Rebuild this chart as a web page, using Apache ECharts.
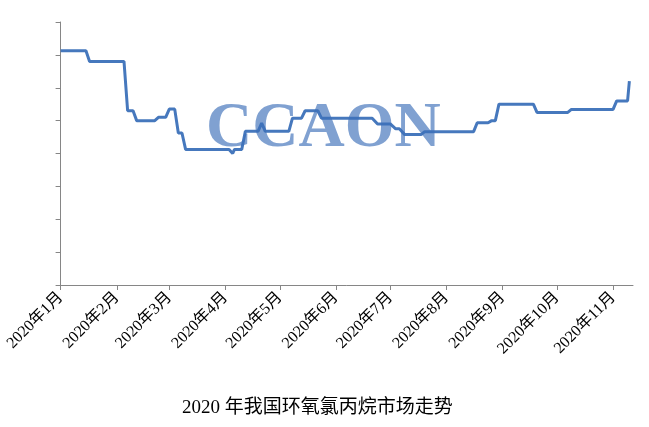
<!DOCTYPE html>
<html>
<head>
<meta charset="utf-8">
<script src="https://cdn.jsdelivr.net/npm/echarts@6/dist/echarts.min.js"></script>
<style>html,body{margin:0;padding:0;background:#fff}#c{width:649px;height:427px}</style>
</head>
<body>
<div id="c"></div>
<script>
// Data (price, arbitrary unlabeled scale)
const dates = [
  '2020-01-01','2020-01-15','2020-01-17','2020-02-05','2020-02-07','2020-02-10','2020-02-12','2020-02-22',
  '2020-02-24','2020-02-28','2020-03-01','2020-03-04','2020-03-06','2020-03-08','2020-03-10','2020-04-03',
  '2020-04-05','2020-04-06','2020-04-10','2020-04-12','2020-04-19','2020-04-21','2020-04-23','2020-05-06',
  '2020-05-08','2020-05-13','2020-05-15','2020-05-22','2020-05-24','2020-06-21','2020-06-24','2020-07-01',
  '2020-07-04','2020-07-06','2020-07-09','2020-07-18','2020-07-20','2020-08-16','2020-08-18','2020-08-24',
  '2020-08-26','2020-08-28','2020-08-30','2020-09-18','2020-09-20','2020-10-07','2020-10-09','2020-11-01',
  '2020-11-03','2020-11-09','2020-11-10'
];
const prices = [
  14250,14250,13600,13600,10600,10600,10000,10000,
  10200,10200,10700,10700,9250,9250,8250,8250,
  8000,8250,8250,9350,9350,9850,9350,9350,
  10150,10150,10600,10600,10150,10150,9800,9800,
  9500,9500,9150,9150,9330,9330,9870,9870,
  10000,10000,11000,11000,10500,10500,10680,10680,
  11200,11200,12400
];
const tickMonths = ['2020-01-01','2020-02-01','2020-03-01','2020-04-01','2020-05-01','2020-06-01',
  '2020-07-01','2020-08-01','2020-09-01','2020-10-01','2020-11-01'];
const titleText = '2020 年我国环氧氯丙烷市场走势';
const watermark = 'CCAON';

function ts(s){ const p = s.split('-').map(Number); return Date.UTC(p[0], p[1]-1, p[2]); }
const tickValues = tickMonths.map(ts);
const seriesData = dates.map((d, i) => [ts(d), prices[i]]);

const chart = echarts.init(document.getElementById('c'), null, {renderer: 'canvas'});
const axisGray = '#868686';
chart.setOption({
  animation: false,
  backgroundColor: '#fff',
  grid: {left: 60.6, top: 22, right: 16, bottom: 142, containLabel: false, outerBoundsMode: 'none'},
  xAxis: {
    type: 'value',
    min: ts('2020-01-01'),
    max: ts('2020-11-12'),
    axisLine: {show: true, onZero: false, lineStyle: {color: axisGray, width: 1}},
    axisTick: {show: true, length: 5, lineStyle: {color: axisGray}, customValues: tickValues},
    axisLabel: {
      show: true,
      customValues: tickValues,
      rotate: 45,
      margin: 10,
      fontSize: 16,
      color: '#000',
      fontFamily: "'Liberation Serif','Noto Sans CJK SC',serif",
      formatter: function (v) { const d = new Date(v); return d.getUTCFullYear() + '年' + (d.getUTCMonth() + 1) + '月'; }
    },
    splitLine: {show: false}
  },
  yAxis: {
    type: 'value',
    min: 0, max: 16000, interval: 2000,
    axisLine: {show: true, lineStyle: {color: axisGray, width: 1}},
    axisTick: {show: true, length: 5, lineStyle: {color: axisGray}},
    axisLabel: {show: false},
    splitLine: {show: false}
  },
  series: [{
    type: 'line',
    data: seriesData,
    showSymbol: false,
    symbol: 'none',
    lineStyle: {color: '#4678bd', width: 3},
    z: 2
  }],
  graphic: [
    {
      type: 'text', left: 206, top: 97, z: 10,
      style: {text: watermark, font: "bold 64px 'Liberation Serif', serif", fill: 'rgba(60,110,185,0.65)'}
    },
    {
      type: 'text', left: 182, top: 399, z: 10,
      style: {text: titleText, font: "19px 'Liberation Serif','Noto Sans CJK SC',serif", fill: '#000'}
    }
  ]
});
</script>
</body>
</html>
